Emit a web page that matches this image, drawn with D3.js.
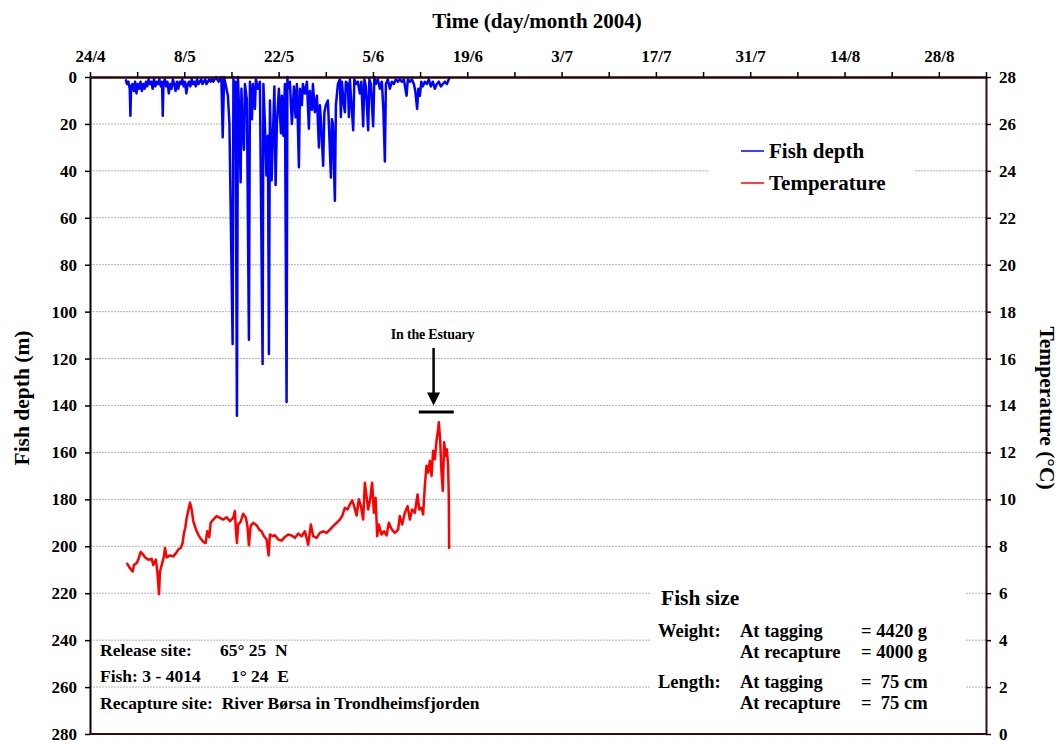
<!DOCTYPE html>
<html>
<head>
<meta charset="utf-8">
<script src="https://cdn.jsdelivr.net/npm/d3@7"></script>
<style>
  body { margin: 0; background: #fff; }
  svg text { font-family: "Liberation Serif", "Times New Roman", serif; font-weight: bold; fill: #000; }
</style>
</head>
<body>
<div id="chart"></div>
<script>
// time is in days after 24 April 2004
var startDate = new Date(2004, 3, 24);
var endDate = new Date(2004, 8, 4);

var depthTicks = d3.range(0, 281, 20);
var tempTicks = d3.range(0, 29, 2);
var weekTicks = [0, 7, 14, 21, 28, 35, 42, 49, 56, 63, 70, 77, 84, 91, 98, 105, 112, 119, 126, 133];

// fish depth (m)
var depthSeries = [
  [5.3,1],[5.5,3],[5.7,2],[5.9,5],[6.0,16.5],[6.1,4],[6.3,3],[6.5,6],[6.7,2],[6.9,7],[7.1,3],[7.3,5],
  [7.5,2],[7.7,6],[7.9,3],[8.1,5],[8.3,2],[8.5,4],[8.7,1],[8.9,3],[9.1,2],[9.3,5],[9.5,1],[9.7,4],
  [9.9,2],[10.1,3],[10.3,1],[10.5,4],[10.7,2],[10.8,16.5],[10.9,3],[11.1,1],[11.3,4],[11.5,2],[11.7,7],
  [11.9,3],[12.1,5],[12.3,1],[12.5,3],[12.7,6],[12.9,2],[13.1,5],[13.3,2],[13.5,3],[13.7,1],[13.9,4],
  [14.1,2],[14.3,7],[14.5,3],[14.7,2],[14.9,4],[15.1,1],[15.3,3],[15.5,2],[15.7,4],[15.9,1],[16.1,3],
  [16.3,2],[16.5,1],[16.7,3],[16.9,2],[17.1,1],[17.3,3],[17.5,2],[17.7,1],[17.9,2],[18.1,1],[18.3,2],
  [18.5,1],[18.7,0],[18.9,1],[19.1,2],[19.3,1],[19.5,0],[19.7,25.7],[19.9,0],
  [20.47,8],[20.70,20],[21.17,113.8],[21.29,0],[21.44,30],[21.59,2],[21.81,144.4],[21.96,0],[22.11,12],
  [22.36,44.9],[22.48,5],[22.63,20],[22.85,31],[23.00,3],[23.29,10],[23.59,112],[23.74,2],[24.04,18],
  [24.18,3],[24.48,13.6],[24.63,1],[24.93,5],[25.22,2],[25.62,122.3],[25.74,3],[25.96,20],[26.19,42],
  [26.41,25],[26.56,118],[26.71,10],[26.96,44],[27.15,25],[27.37,4],[27.55,46],[27.74,20],[28.04,5],
  [28.34,24],[28.49,8],[28.71,25],[28.93,3],[29.18,138.5],[29.30,0],
  [29.38,5],[29.67,2],[29.97,20],[30.27,4],[30.52,17.2],[30.71,3],[31.01,38.5],[31.16,5],[31.45,12],
  [31.60,3],[31.90,7],[32.20,2],[32.49,22],[32.64,6],[32.94,14],[33.09,3],[33.38,15],[33.68,8],
  [33.98,30],[34.12,12],[34.27,18],[34.61,37.8],[34.79,15],[35.01,12],[35.31,10],[35.46,20],[35.76,42.8],
  [35.91,18],[36.05,20],[36.35,52.7],[36.50,12],[36.80,3],[37.09,1],[37.24,17],[37.39,2],[37.61,10],
  [37.83,15],[37.98,2],[38.28,3],[38.43,17],[38.58,1],[38.72,8],[39.07,22.7],[39.24,1],[39.47,3],
  [39.76,2],[40.06,7],[40.28,2],[40.55,21],[40.73,1],[40.95,4],[41.29,22.7],[41.47,1],[41.69,3],
  [42.03,21],[42.21,0],[42.43,3],[42.73,1],[43.03,5],[43.32,2],[43.55,14],[43.77,36],[43.92,3],
  [44.21,1],[44.51,5],[44.81,2],[45.10,3],[45.40,1],[45.70,2],[45.99,1],[46.29,2],[46.59,1],[46.99,8],
  [47.18,1],[47.48,2],[47.77,1],[48.07,3],[48.29,6],[48.56,13.6],[48.74,5],[48.96,8],[49.18,2],
  [49.41,4],[49.70,2],[50.00,3],[50.30,1],[50.59,4],[50.89,2],[51.19,5],[51.48,3],[51.78,2],[52.08,4],
  [52.37,3],[52.67,2],[52.97,3],[53.26,1],[53.41,0]
];

// water temperature (°C)
var tempSeries = [
  [5.45,7.29],[5.93,7.07],[6.34,6.93],[6.53,7.2],[6.93,7.29],[7.17,7.43],[7.52,7.76],[7.82,7.67],
  [8.16,7.53],[8.65,7.43],[9.15,7.47],[9.39,7.2],[9.79,7.43],[10.04,6.79],[10.24,5.96],[10.39,6.93],
  [10.64,7.2],[10.98,7.57],[11.13,7.93],[11.38,7.53],[11.87,7.61],[12.36,7.57],[12.76,7.71],[13.10,7.86],
  [13.46,7.93],[13.75,8.14],[13.95,8.57],[14.14,8.79],[14.35,9.21],[14.58,9.5],[14.84,9.86],[15.09,9.57],
  [15.33,9.07],[15.73,8.71],[16.07,8.5],[16.42,8.33],[16.81,8.19],[17.17,8.14],[17.40,8.64],[17.70,8.39],
  [17.91,9.0],[18.29,9.14],[18.80,9.29],[19.29,9.21],[19.78,9.14],[20.28,9.24],[20.77,9.07],[21.26,9.21],
  [21.51,9.5],[21.66,8.71],[21.81,8.14],[22.00,8.93],[22.36,9.04],[22.74,9.39],[23.15,9.21],[23.40,8.79],
  [23.59,8.04],[23.84,8.86],[24.23,9.0],[24.73,8.9],[25.12,8.71],[25.47,8.64],[25.82,8.43],[26.22,8.29],
  [26.51,7.61],[26.71,8.5],[27.11,8.43],[27.45,8.47],[27.94,8.29],[28.44,8.24],[28.93,8.4],[29.42,8.5],
  [29.93,8.46],[30.42,8.36],[30.91,8.54],[31.41,8.43],[31.90,8.64],[32.39,8.07],[32.79,8.93],[33.13,8.43],
  [33.64,8.36],[34.12,8.57],[34.61,8.64],[35.12,8.57],[35.61,8.71],[36.10,8.86],[36.60,9.0],[37.09,9.14],
  [37.43,9.29],[37.83,9.64],[38.23,9.57],[38.58,9.79],[38.92,9.96],[39.21,9.71],[39.57,9.31],[39.91,10.0],
  [40.21,9.71],[40.55,9.14],[40.80,10.71],[41.05,10.14],[41.29,9.57],[41.59,10.0],[41.88,10.71],[42.14,9.43],
  [42.39,10.07],[42.63,8.43],[42.88,8.93],[43.28,8.5],[43.66,8.64],[44.02,8.46],[44.36,9.0],[44.76,8.74],
  [45.25,8.57],[45.74,8.71],[45.99,9.29],[46.34,8.93],[46.74,9.43],[47.14,9.71],[47.48,9.14],[47.82,9.57],
  [48.22,9.43],[48.62,10.21],[48.86,9.57],[49.21,9.64],[49.45,9.36],[49.70,10.57],[49.95,11.43],[50.19,11.14],
  [50.45,11.64],[50.70,11.0],[50.93,12.07],[51.19,11.71],[51.44,12.5],[51.68,13.0],[51.78,13.29],[51.97,12.57],
  [52.18,11.14],[52.37,10.36],[52.57,12.43],[52.77,11.86],[52.97,12.14],[53.16,11.43],[53.26,10.07],[53.31,7.89]
];

var legendItems = [["Fish depth", "#0000ff"], ["Temperature", "#ff0000"]];
var siteLines = [
  ["Release site:", "65\u00b0 25  N"],
  ["Fish: 3 - 4014", "1\u00b0 24  E"],
  ["Recapture site:  River B\u00f8rsa in Trondheimsfjorden", ""]
];
var sizeRows = [
  ["Weight:", "At tagging", "= 4420 g"],
  ["", "At recapture", "= 4000 g"],
  ["Length:", "At tagging", "=  75 cm"],
  ["", "At recapture", "=  75 cm"]
];

var width = 1060, height = 746;
var plotL = 90, plotR = 986, plotT = 77, plotB = 734;

var day = function(d) { return new Date(startDate.getTime() + d * 864e5); };

var x = d3.scaleTime().domain([startDate, endDate]).range([plotL, plotR]);
var yDepth = d3.scaleLinear().domain([0, 280]).range([plotT, plotB]);
var yTemp = d3.scaleLinear().domain([0, 28]).range([plotB, plotT]);

var svg = d3.select('#chart').append('svg').attr('width', width).attr('height', height);

// grid lines
svg.append('g').selectAll('line').data(depthTicks.slice(1, -1)).enter().append('line')
  .attr('x1', plotL).attr('x2', plotR)
  .attr('y1', function(d) { return yDepth(d); }).attr('y2', function(d) { return yDepth(d); })
  .style('stroke', '#b4b4b4').style('stroke-width', 1).style('stroke-dasharray', '2,1');

// white boxes behind legend and fish size text
svg.append('rect').attr('x', 709).attr('y', 133).attr('width', 206).attr('height', 70).style('fill', '#fff');
svg.append('rect').attr('x', 650).attr('y', 584).attr('width', 316).attr('height', 136).style('fill', '#fff');

// series
var lineDepth = d3.line().x(function(d) { return x(day(d[0])); }).y(function(d) { return yDepth(d[1]); });
var lineTemp = d3.line().x(function(d) { return x(day(d[0])); }).y(function(d) { return yTemp(d[1]); });

svg.append('path').datum(tempSeries).attr('d', lineTemp)
  .style('fill', 'none').style('stroke', '#ff0000').style('stroke-width', 2.5).style('stroke-linejoin', 'round');
svg.append('path').datum(depthSeries).attr('d', lineDepth)
  .style('fill', 'none').style('stroke', '#0000ff').style('stroke-width', 2.5).style('stroke-linejoin', 'round');

// axes
var fmt = function(d) {
  var n = Math.round((d - startDate) / 864e5);
  return (n % 14 === 0 && n < 133) ? d.getDate() + '/' + (d.getMonth() + 1) : '';
};
var topAxis = svg.append('g').attr('transform', 'translate(0,' + plotT + ')')
  .call(d3.axisTop(x).tickValues(weekTicks.map(day)).tickFormat(fmt).tickSizeInner(5).tickSizeOuter(0).tickPadding(10));
var leftAxis = svg.append('g').attr('transform', 'translate(' + plotL + ',0)')
  .call(d3.axisLeft(yDepth).tickValues(depthTicks).tickSizeInner(5).tickSizeOuter(0).tickPadding(8));
var rightAxis = svg.append('g').attr('transform', 'translate(' + plotR + ',0)')
  .call(d3.axisRight(yTemp).tickValues(tempTicks).tickSizeInner(5).tickSizeOuter(0).tickPadding(8));

[topAxis, leftAxis, rightAxis].forEach(function(a) {
  a.selectAll('text').style('font-size', '17px').style('font-family', '"Liberation Serif", serif').style('font-weight', 'bold');
  a.selectAll('.tick line').style('stroke', '#000').style('stroke-width', 1.5);
});
topAxis.select('.domain').style('stroke', '#2a0505').style('stroke-width', 2.5);
leftAxis.select('.domain').style('stroke', '#000').style('stroke-width', 2);
rightAxis.select('.domain').style('stroke', '#3a0a0a').style('stroke-width', 2);
svg.append('line').attr('x1', plotL).attr('x2', plotR).attr('y1', plotB).attr('y2', plotB)
  .style('stroke', '#3a0a0a').style('stroke-width', 2);

// titles
svg.append('text').attr('x', 537).attr('y', 28).attr('text-anchor', 'middle').style('font-size', '21px')
  .text('Time (day/month 2004)');
svg.append('text').attr('transform', 'translate(29,' + 398 + ') rotate(-90)').attr('text-anchor', 'middle')
  .style('font-size', '21.5px').text('Fish depth (m)');
svg.append('text').attr('transform', 'translate(1040,' + 408 + ') rotate(90)').attr('text-anchor', 'middle')
  .style('font-size', '21.5px').text('Temperature (\u00b0C)');

// legend
legendItems.forEach(function(d, i) {
  var ly = 151 + i * 32;
  svg.append('line').attr('x1', 741).attr('x2', 764).attr('y1', ly).attr('y2', ly)
    .style('stroke', d[1]).style('stroke-width', 1.5);
  svg.append('text').attr('x', 769).attr('y', ly + 7).style('font-size', '21px').text(d[0]);
});

// estuary annotation
var ax = x(day(51.0));
svg.append('text').attr('x', ax - 1).attr('y', yTemp(16.85)).attr('text-anchor', 'middle')
  .style('font-size', '14px').style('letter-spacing', '-0.2px').text('In the Estuary');
svg.append('line').attr('x1', ax).attr('x2', ax).attr('y1', yTemp(16.45)).attr('y2', yTemp(14.3))
  .style('stroke', '#000').style('stroke-width', 2.5);
svg.append('path')
  .attr('d', 'M' + (ax - 6.5) + ',' + yTemp(14.55) + 'L' + (ax + 6.5) + ',' + yTemp(14.55) + 'L' + ax + ',' + yTemp(14.0) + 'Z')
  .style('fill', '#000');
svg.append('line').attr('x1', x(day(48.8))).attr('x2', x(day(54.0))).attr('y1', yTemp(13.72)).attr('y2', yTemp(13.72))
  .style('stroke', '#000').style('stroke-width', 3);

// release / recapture text
siteLines.forEach(function(d, i) {
  var ty = [656, 682, 709][i];
  svg.append('text').attr('x', 100).attr('y', ty).style('font-size', '17.5px').style('white-space', 'pre').text(d[0]);
  if (d[1]) {
    svg.append('text').attr('x', i === 0 ? 220 : 231).attr('y', ty).style('font-size', '17.5px')
      .style('white-space', 'pre').text(d[1]);
  }
});

// fish size
svg.append('text').attr('x', 661).attr('y', 605).style('font-size', '21.5px').text('Fish size');
sizeRows.forEach(function(d, i) {
  var ty = [637, 658, 688, 709][i];
  svg.append('text').attr('x', 658).attr('y', ty).style('font-size', '18.5px').text(d[0]);
  svg.append('text').attr('x', 740).attr('y', ty).style('font-size', '18.5px').text(d[1]);
  svg.append('text').attr('x', 861).attr('y', ty).style('font-size', '18.5px').style('white-space', 'pre').text(d[2]);
});
</script>
</body>
</html>
